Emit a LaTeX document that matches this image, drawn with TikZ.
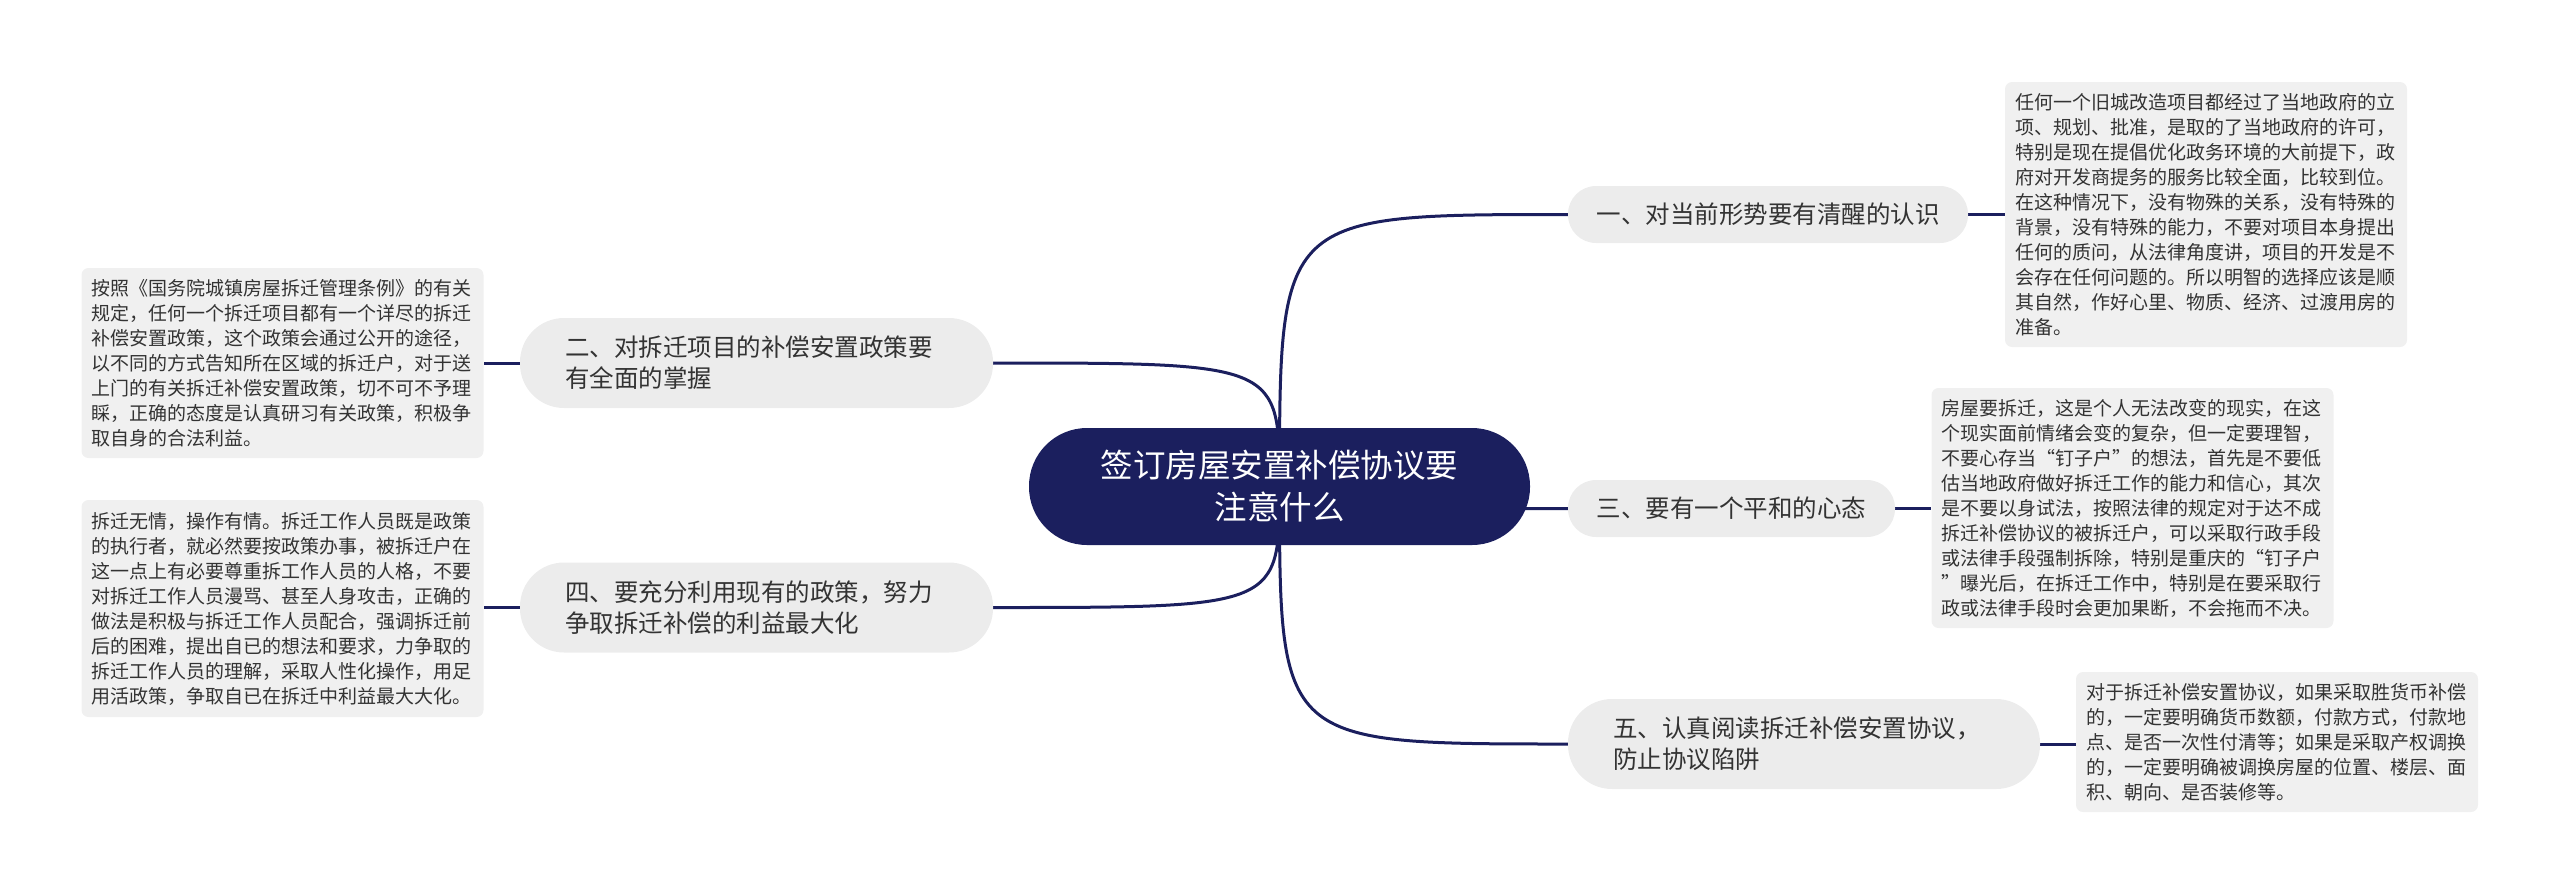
\documentclass[tikz,border=0pt]{standalone}
\usepackage{fontspec}
\setmainfont{Noto Sans CJK SC}
\usetikzlibrary{backgrounds}
\definecolor{navy}{RGB}{27,31,94}
\definecolor{bgrey}{RGB}{236,236,236}
\definecolor{lgrey}{RGB}{240,240,240}
\definecolor{txt}{RGB}{51,51,51}
\begin{document}
\begin{tikzpicture}[x=1pt,y=-1pt,
  root/.style={fill=navy, rounded corners=58pt, minimum width=501pt, minimum height=117pt,
    text=white, align=center, font=\fontsize{32.5}{42}\selectfont, inner sep=0pt},
  branchone/.style={fill=bgrey, rounded corners=28pt, minimum height=57pt, inner sep=0pt,
    text=txt, font=\fontsize{24.5}{31}\selectfont},
  branchtwo/.style={fill=bgrey, rounded corners=44pt, minimum height=90pt, inner xsep=45pt,
    inner ysep=0pt, text width=383pt, align=left, text=txt, font=\fontsize{24.5}{31}\selectfont},
  leaf/.style={fill=lgrey, rounded corners=7pt, text width=382pt, align=left, inner xsep=10pt,
    inner ysep=0pt, text=txt, font=\fontsize{19}{25}\selectfont},
  conn/.style={draw=navy, line width=3pt}
]
\useasboundingbox (0,0) rectangle (2560,895);

\node[root] (c) at (1279.5,486.5) {签订房屋安置补偿协议要\\注意什么};

\node[branchone, minimum width=400pt] (b1) at (1768,214.5) {一、对当前形势要有清醒的认识};
\node[branchtwo] (b2) at (756.5,363) {二、对拆迁项目的补偿安置政策要\\有全面的掌握};
\node[branchone, minimum width=327pt] (b3) at (1731.5,508.5) {三、要有一个平和的心态};
\node[branchtwo] (b4) at (756.5,607.5) {四、要充分利用现有的政策，努力\\争取拆迁补偿的利益最大化};
\node[branchtwo, text width=382pt] (b5) at (1804,744) {五、认真阅读拆迁补偿安置协议，\\防止协议陷阱};

\node[leaf, minimum height=265pt] (l1) at (2206,214.5) {任何一个旧城改造项目都经过了当地政府的立\\项、规划、批准，是取的了当地政府的许可，\\特别是现在提倡优化政务环境的大前提下，政\\府对开发商提务的服务比较全面，比较到位。\\在这种情况下，没有物殊的关系，没有特殊的\\背景，没有特殊的能力，不要对项目本身提出\\任何的质问，从法律角度讲，项目的开发是不\\会存在任何问题的。所以明智的选择应该是顺\\其自然，作好心里、物质、经济、过渡用房的\\准备。};

\node[leaf, minimum height=240pt] (l3) at (2132.5,508) {房屋要拆迁，这是个人无法改变的现实，在这\\个现实面前情绪会变的复杂，但一定要理智，\\不要心存当“钉子户”的想法，首先是不要低\\估当地政府做好拆迁工作的能力和信心，其次\\是不要以身试法，按照法律的规定对于达不成\\拆迁补偿协议的被拆迁户，可以采取行政手段\\或法律手段强制拆除，特别是重庆的“钉子户\\”曝光后，在拆迁工作中，特别是在要采取行\\政或法律手段时会更加果断，不会拖而不决。};

\node[leaf, minimum height=140pt] (l5) at (2277,742) {对于拆迁补偿安置协议，如果采取胜货币补偿\\的，一定要明确货币数额，付款方式，付款地\\点、是否一次性付清等；如果是采取产权调换\\的，一定要明确被调换房屋的位置、楼层、面\\积、朝向、是否装修等。};

\node[leaf, minimum height=190pt] (l2) at (282.5,363) {按照《国务院城镇房屋拆迁管理条例》的有关\\规定，任何一个拆迁项目都有一个详尽的拆迁\\补偿安置政策，这个政策会通过公开的途径，\\以不同的方式告知所在区域的拆迁户，对于送\\上门的有关拆迁补偿安置政策，切不可不予理\\睬，正确的态度是认真研习有关政策，积极争\\取自身的合法利益。};

\node[leaf, minimum height=217pt] (l4) at (282.5,608.5) {拆迁无情，操作有情。拆迁工作人员既是政策\\的执行者，就必然要按政策办事，被拆迁户在\\这一点上有必要尊重拆工作人员的人格，不要\\对拆迁工作人员漫骂、甚至人身攻击，正确的\\做法是积极与拆迁工作人员配合，强调拆迁前\\后的困难，提出自已的想法和要求，力争取的\\拆迁工作人员的理解，采取人性化操作，用足\\用活政策，争取自已在拆迁中利益最大大化。};

\begin{scope}[on background layer]
\draw[conn] (c.center) .. controls (c.center |- b1.west) .. (b1.west);
\draw[conn] (c.center) .. controls (c.center |- b2.east) .. (b2.east);
\draw[conn] (c.center) .. controls (c.center |- b3.west) .. (b3.west);
\draw[conn] (c.center) .. controls (c.center |- b4.east) .. (b4.east);
\draw[conn] (c.center) .. controls (c.center |- b5.west) .. (b5.west);
\draw[conn] (b1.east) -- (b1.east -| l1.west);
\draw[conn] (b2.west) -- (b2.west -| l2.east);
\draw[conn] (b3.east) -- (b3.east -| l3.west);
\draw[conn] (b4.west) -- (b4.west -| l4.east);
\draw[conn] (b5.east) -- (b5.east -| l5.west);
\end{scope}
\end{tikzpicture}
\end{document}
